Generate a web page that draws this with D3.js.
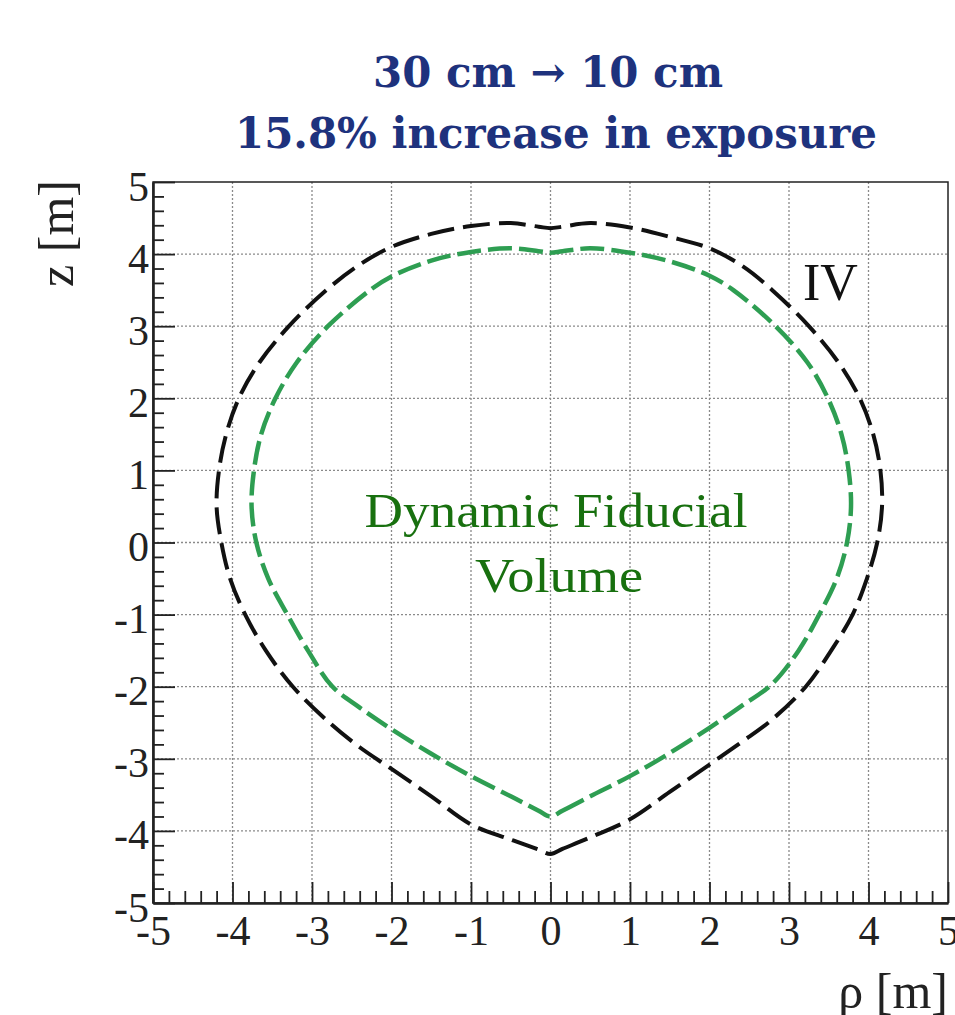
<!DOCTYPE html>
<html>
<head>
<meta charset="utf-8">
<script src="https://cdn.jsdelivr.net/npm/d3@7"></script>
<style>
  html, body { margin: 0; padding: 0; background: #fff; }
  svg { display: block; }
</style>
</head>
<body>
<svg id="chart"></svg>
<script>
// IV boundary (black dashed), [rho, z] in metres, traced counter-clockwise from the bottom
const ivCurve = [
  [0, -4.32], [0.15, -4.25], [0.5, -4.09], [1.0, -3.84], [1.5, -3.46], [2.0, -3.08],
  [2.4, -2.77], [2.76, -2.48], [3.21, -2.0], [3.53, -1.5], [3.80, -1.0], [3.98, -0.5],
  [4.11, 0], [4.17, 0.5], [4.15, 1.0], [4.06, 1.5], [3.89, 2.0], [3.62, 2.5],
  [3.25, 3.0], [2.79, 3.5], [2.42, 3.83], [2.0, 4.08], [1.5, 4.24], [1.0, 4.37],
  [0.5, 4.43], [0.15, 4.38], [0, 4.36], [-0.15, 4.38], [-0.5, 4.43], [-1.0, 4.39],
  [-1.5, 4.28], [-2.0, 4.10], [-2.42, 3.84], [-2.82, 3.5], [-3.29, 3.0], [-3.66, 2.5],
  [-3.92, 2.0], [-4.08, 1.5], [-4.17, 1.0], [-4.20, 0.5], [-4.14, 0], [-4.03, -0.5],
  [-3.84, -1.0], [-3.58, -1.5], [-3.24, -2.0], [-2.78, -2.5], [-2.4, -2.84], [-2.0, -3.14],
  [-1.5, -3.52], [-1.0, -3.91], [-0.5, -4.12], [-0.15, -4.26]
]

// Dynamic fiducial volume (green dashed)
const fvCurve = [
  [0, -3.80], [0.15, -3.72], [0.5, -3.52], [1.0, -3.24], [1.5, -2.92], [2.0, -2.57],
  [2.4, -2.27], [2.78, -1.97], [3.12, -1.5], [3.38, -1.0], [3.60, -0.5], [3.73, 0],
  [3.78, 0.5], [3.75, 1.0], [3.66, 1.5], [3.49, 2.0], [3.23, 2.5], [2.83, 3.0],
  [2.30, 3.5], [2.0, 3.70], [1.5, 3.90], [1.0, 4.02], [0.5, 4.08], [0.15, 4.04],
  [0, 4.02], [-0.15, 4.04], [-0.5, 4.08], [-1.0, 4.03], [-1.5, 3.91], [-2.0, 3.69],
  [-2.27, 3.5], [-2.80, 3.0], [-3.19, 2.5], [-3.46, 2.0], [-3.64, 1.5], [-3.73, 1.0],
  [-3.76, 0.5], [-3.70, 0], [-3.55, -0.5], [-3.31, -1.0], [-3.05, -1.5], [-2.75, -1.99],
  [-2.4, -2.29], [-2.0, -2.59], [-1.5, -2.93], [-1.0, -3.24], [-0.5, -3.52], [-0.15, -3.72]
]

const majorTicks = [-5, -4, -3, -2, -1, 0, 1, 2, 3, 4, 5]
const minorTicks = d3.range(-50, 51, 2).map(d => d / 10).filter(d => !majorTicks.includes(d))
const gridTicks = [-4, -3, -2, -1, 0, 1, 2, 3, 4]

const titleLines = ['30 cm \u2192 10 cm', '15.8% increase in exposure']
const regionLines = ['Dynamic Fiducial', 'Volume']

const width = 955
const height = 1015
const plotLeft = 153, plotRight = 948, plotTop = 182, plotBottom = 903
const serif = '"Liberation Serif", "Times New Roman", serif'

const svg = d3.select('#chart')
  .attr('width', width)
  .attr('height', height)

const x = d3.scaleLinear().domain([-5, 5]).range([plotLeft, plotRight])
const y = d3.scaleLinear().domain([-5, 5]).range([plotBottom, plotTop])

// Title
const titleWidths = [350, 642]
const titleX = [548, 556]
const titleY = [87, 148]
svg.append('g')
  .selectAll('text')
  .data(titleLines)
  .enter().append('text')
  .attr('x', (d, i) => titleX[i])
  .attr('y', (d, i) => titleY[i])
  .attr('text-anchor', 'middle')
  .attr('font-family', '"DejaVu Serif", serif')
  .attr('font-weight', 'bold')
  .attr('font-size', '42px')
  .attr('fill', '#1e327d')
  .attr('textLength', (d, i) => titleWidths[i])
  .attr('lengthAdjust', 'spacingAndGlyphs')
  .text(d => d)

// Grid
const grid = svg.append('g').attr('class', 'grid')
grid.selectAll('line.gx')
  .data(gridTicks)
  .enter().append('line')
  .attr('class', 'gx')
  .attr('x1', d => x(d)).attr('x2', d => x(d))
  .attr('y1', plotTop).attr('y2', plotBottom)
grid.selectAll('line.gy')
  .data(gridTicks)
  .enter().append('line')
  .attr('class', 'gy')
  .attr('y1', d => y(d)).attr('y2', d => y(d))
  .attr('x1', plotLeft).attr('x2', plotRight)
grid.selectAll('line')
  .attr('stroke', '#8a8a8a')
  .attr('stroke-width', 1.3)
  .attr('stroke-dasharray', '2,2')

// Frame (top / right)
svg.append('rect')
  .attr('x', plotLeft).attr('y', plotTop)
  .attr('width', plotRight - plotLeft).attr('height', plotBottom - plotTop)
  .attr('fill', 'none')
  .attr('stroke', '#222')
  .attr('stroke-width', 1.5)

// Curves
const line = d3.line()
  .x(d => x(d[0]))
  .y(d => y(d[1]))
  .curve(d3.curveCatmullRomClosed.alpha(0.5))

svg.append('path')
  .datum(ivCurve)
  .attr('d', line)
  .attr('fill', 'none')
  .attr('stroke', '#111')
  .attr('stroke-width', 4)
  .attr('stroke-dasharray', '27,9')

svg.append('path')
  .datum(fvCurve)
  .attr('d', line)
  .attr('fill', 'none')
  .attr('stroke', '#2e9e52')
  .attr('stroke-width', 4.5)
  .attr('stroke-dasharray', '24,7')

// Axes: minor ticks
svg.append('g')
  .attr('transform', `translate(${plotLeft},0)`)
  .call(d3.axisLeft(y).tickValues(minorTicks).tickSize(-11).tickSizeOuter(0).tickFormat(''))
  .call(g => g.select('.domain').remove())
svg.append('g')
  .attr('transform', `translate(0,${plotBottom})`)
  .call(d3.axisBottom(x).tickValues(minorTicks).tickSize(-12).tickSizeOuter(0).tickFormat(''))
  .call(g => g.select('.domain').remove())

// Axes: major ticks with labels
const yAxis = svg.append('g')
  .attr('transform', `translate(${plotLeft},0)`)
  .call(d3.axisLeft(y).tickValues(majorTicks).tickSize(-22).tickSizeOuter(0).tickPadding(4).tickFormat(d => String(d)))
yAxis.selectAll('text').attr('dy', '0.43em')

svg.append('g')
  .attr('transform', `translate(0,${plotBottom})`)
  .call(d3.axisBottom(x).tickValues(majorTicks).tickSize(-21).tickSizeOuter(0).tickPadding(12).tickFormat(d => String(d)))

svg.selectAll('.tick line').attr('stroke', '#222').attr('stroke-width', 1.8)
svg.selectAll('.tick text')
  .attr('font-family', serif)
  .attr('font-size', '42px')
  .attr('fill', '#222')
svg.selectAll('.domain').attr('stroke', '#222').attr('stroke-width', 2.6)

// Axis titles
svg.append('text')
  .attr('transform', 'translate(73,180) rotate(-90)')
  .attr('text-anchor', 'end')
  .attr('font-family', serif)
  .attr('font-size', '50px')
  .attr('fill', '#222')
  .text('z [m]')

svg.append('text')
  .attr('x', 948)
  .attr('y', 1008)
  .attr('text-anchor', 'end')
  .attr('font-family', serif)
  .attr('font-size', '50px')
  .attr('fill', '#222')
  .text('\u03c1 [m]')

// Curve label
svg.append('text')
  .attr('x', 803)
  .attr('y', 300)
  .attr('font-family', serif)
  .attr('font-size', '52px')
  .attr('fill', '#111')
  .text('IV')

// Region label
const regionX = [556, 559]
const regionY = [527, 592]
const regionW = [383, 168]
svg.append('g')
  .selectAll('text')
  .data(regionLines)
  .enter().append('text')
  .attr('x', (d, i) => regionX[i])
  .attr('y', (d, i) => regionY[i])
  .attr('text-anchor', 'middle')
  .attr('font-family', serif)
  .attr('font-size', '48px')
  .attr('fill', '#18700f')
  .attr('textLength', (d, i) => regionW[i])
  .attr('lengthAdjust', 'spacingAndGlyphs')
  .text(d => d)
</script>
</body>
</html>
